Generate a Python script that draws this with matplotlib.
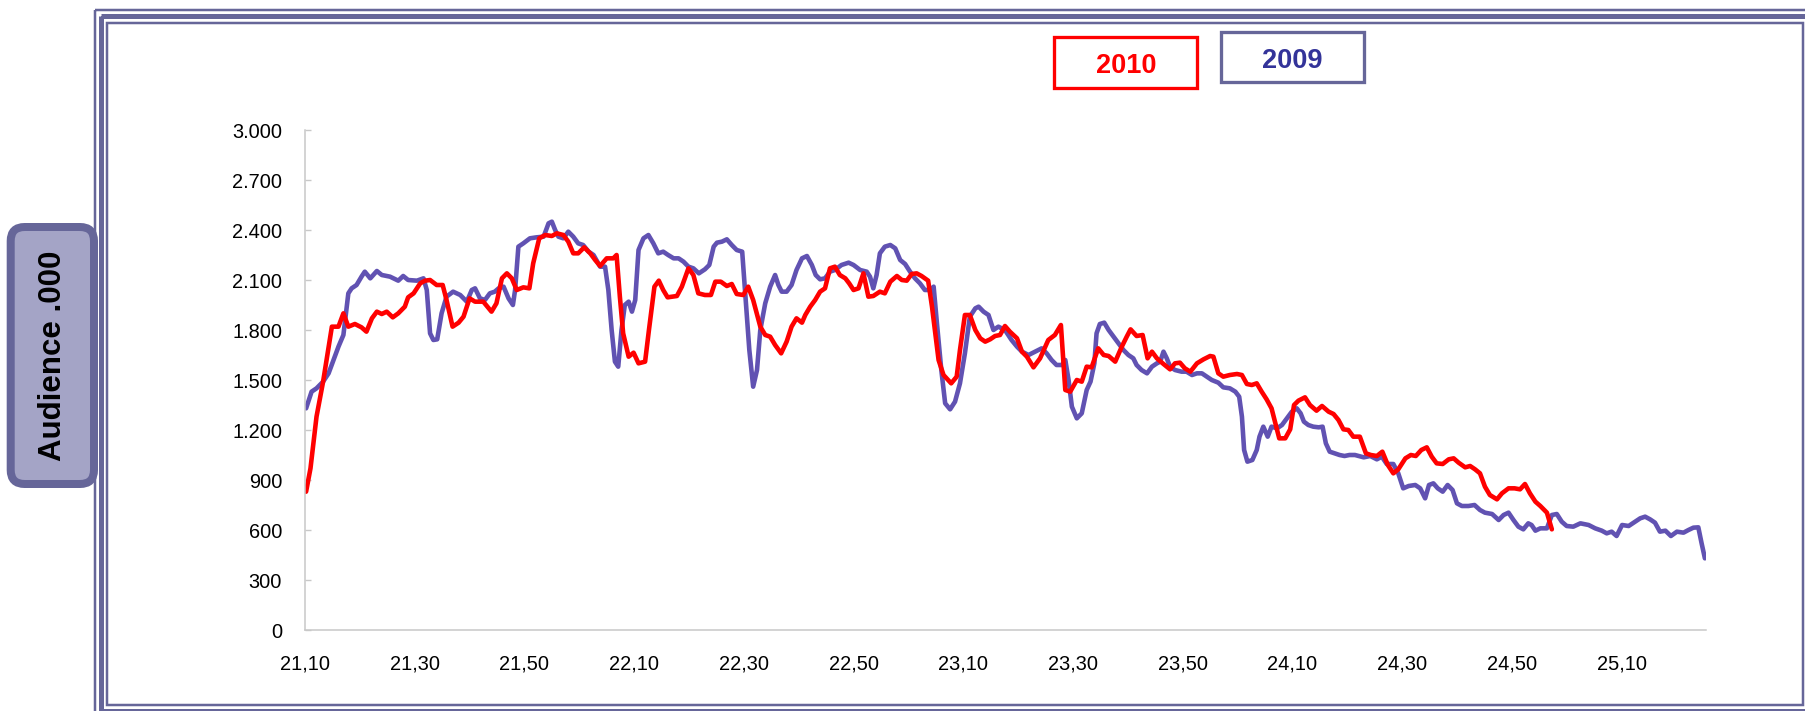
import matplotlib
matplotlib.use("Agg")
import matplotlib.pyplot as plt
from matplotlib.patches import Rectangle, FancyBboxPatch

plt.rcParams['font.family'] = ['Liberation Sans', 'DejaVu Sans']

# ---- data: minutes after 21:10, audience (thousands) ----
minutes_2009 = [0.2,1.2,2.1,3.3,4.3,5.2,6.1,7.0,7.9,8.5,9.4,10.3,10.9,11.9,13.1,14.0,15.5,17.0,17.9,18.8,
                20.4,21.6,22.2,22.8,23.4,24.1,24.9,25.8,27.0,28.3,29.5,30.4,31.0,31.9,32.8,33.7,34.6,35.3,36.2,37.1,
                37.9,38.3,38.9,39.8,41.0,42.2,43.5,44.4,45.0,45.6,46.2,47.1,48.0,48.9,49.8,50.7,51.7,52.6,53.8,54.7,
                55.3,55.9,56.5,57.1,57.7,58.3,59.0,59.6,60.2,60.8,61.7,62.6,
                63.5,64.4,65.3,66.2,67.2,68.1,69.0,69.9,70.8,71.8,72.9,73.7,74.5,75.1,76.0,76.9,77.8,78.7,79.7,80.2,
                81.0,81.7,82.4,83.0,83.9,84.8,85.7,86.3,86.9,87.8,88.7,89.6,90.6,91.5,92.4,93.1,93.9,94.8,95.7,96.6,
                97.8,99.1,100.0,101.2,102.4,103.0,103.6,104.2,104.8,105.7,106.7,107.6,108.5,109.4,110.3,111.2,112.1,113.0,114.0,114.6,
                115.2,116.0,116.7,117.6,118.5,119.4,120.3,121.2,122.2,122.8,123.7,124.6,125.5,126.4,
                127.6,128.8,129.8,130.7,131.9,133.1,134.3,135.2,136.1,137.0,138.0,138.6,139.2,139.8,140.7,141.6,142.5,143.2,143.9,144.3,
                144.9,145.7,146.5,147.4,148.3,149.2,150.1,151.0,151.6,152.5,153.5,154.4,155.3,155.9,156.5,157.1,157.7,158.6,159.8,160.7,
                161.7,162.6,163.5,164.4,165.3,166.5,167.4,168.6,169.6,170.3,170.8,171.2,171.8,172.7,173.5,174.0,174.7,175.5,176.2,177.2,
                178.1,179.0,179.9,180.8,181.5,182.1,182.9,183.8,184.8,185.5,186.1,186.8,187.7,188.6,189.5,190.4,
                191.4,193.0,194.2,195.4,196.3,197.2,198.4,199.3,200.2,201.2,202.4,203.3,204.2,204.9,205.7,206.5,207.4,208.3,209.2,210.0,
                210.9,212.1,213.2,214.2,215.1,216.4,217.6,218.5,219.4,220.3,221.2,222.1,223.0,223.6,224.3,225.2,226.4,227.3,228.2,229.1,
                230.0,231.2,232.5,234.0,235.2,236.4,237.3,238.2,239.1,240.1,241.3,242.5,243.4,244.3,245.2,246.1,247.0,248.0,249.0,250.1,
                251.3,252.2,253.1,254.0,254.6,255.2]
audience_2009 = [1330,1430,1450,1490,1540,1620,1700,1770,2020,2050,2070,2120,2150,2110,2154,2130,2120,2096,2124,2100,
                 2096,2110,2040,1780,1740,1744,1900,2000,2030,2010,1970,2040,2050,1990,1980,2020,2030,2050,2060,1990,
                 1950,2040,2300,2320,2350,2356,2360,2440,2450,2400,2360,2350,2390,2360,2320,2310,2270,2250,2180,2180,
                 2040,1800,1610,1580,1800,1950,1970,1910,1980,2280,2350,2370,
                 2320,2260,2270,2250,2230,2230,2210,2180,2170,2140,2164,2190,2300,2324,2330,2344,2310,2280,2270,2040,
                 1680,1460,1560,1800,1960,2060,2130,2070,2030,2030,2070,2160,2230,2244,2190,2130,2104,2110,2150,2160,
                 2190,2204,2190,2160,2150,2120,2050,2130,2260,2300,2310,2290,2220,2196,2150,2110,2080,2040,2040,2060,
                 1840,1560,1360,1324,1370,1480,1660,1880,1930,1940,1910,1890,1800,1820,
                 1800,1740,1700,1670,1650,1670,1690,1660,1620,1590,1590,1620,1500,1340,1270,1300,1440,1490,1600,1780,
                 1836,1844,1800,1760,1720,1680,1650,1630,1590,1560,1540,1580,1600,1610,1670,1630,1580,1560,1550,1550,
                 1530,1540,1540,1520,1500,1484,1456,1450,1430,1400,1280,1080,1010,1020,1080,1160,1220,1160,1220,1210,
                 1230,1270,1310,1330,1300,1250,1230,1220,1216,1220,1120,1070,1060,1050,1044,1050,
                 1050,1036,1044,1024,1040,996,996,940,850,864,870,850,790,870,880,850,830,870,840,760,
                 744,744,750,720,704,696,660,690,704,660,620,604,640,630,596,610,610,690,696,650,
                 624,620,640,630,610,596,580,590,564,630,624,650,670,680,664,644,590,596,564,590,
                 584,600,614,616,520,430]

minutes_2010 = [0.2,1.0,2.1,3.3,4.9,6.1,7.0,7.9,9.1,10.3,11.2,12.2,13.1,14.0,14.9,16.0,17.0,18.2,18.8,19.8,
                21.0,21.9,22.8,24.0,25.1,25.8,26.9,28.0,28.9,30.0,31.0,32.5,34.0,34.9,35.9,36.8,37.7,38.6,39.8,40.9,
                41.6,42.7,43.8,45.0,45.9,47.1,48.0,48.9,49.8,50.9,52.0,52.9,53.8,55.0,56.2,56.8,57.4,58.0,59.0,59.9,
                60.8,62.0,
                62.7,63.7,64.5,65.3,66.1,67.8,68.7,69.9,70.8,71.7,72.9,74.0,74.8,75.8,76.9,77.8,78.7,79.9,80.8,81.7,
                83.0,83.9,84.8,85.7,86.8,87.8,88.7,89.6,90.6,91.2,92.1,93.0,93.9,94.8,95.7,96.6,97.5,98.5,99.2,100.0,
                100.9,101.8,102.7,103.6,104.8,105.7,106.7,107.9,108.8,109.7,110.6,111.5,112.4,113.6,114.3,114.9,115.5,116.4,117.8,118.8,
                119.4,120.3,121.2,122.2,123.1,124.0,124.9,125.8,
                126.7,127.6,128.5,129.8,130.7,131.6,132.8,134.0,135.5,136.7,137.8,138.6,139.5,140.7,141.6,142.5,143.4,144.6,145.6,146.5,
                147.7,148.9,149.8,150.5,151.6,152.7,153.6,154.4,155.3,156.5,157.7,158.6,159.5,160.4,161.4,162.6,163.8,165.0,165.6,166.5,
                167.4,168.6,169.9,170.8,171.7,172.6,173.5,174.4,175.3,176.2,176.9,177.6,178.7,179.6,180.3,181.1,182.3,183.2,184.4,185.4,
                186.6,187.5,188.4,189.3,190.2,191.1,
                192.3,193.4,194.3,195.4,196.4,197.4,198.4,199.3,200.6,201.6,202.5,203.5,204.5,205.4,206.3,207.4,208.5,209.4,210.3,211.5,
                212.4,213.3,214.2,215.1,216.0,217.3,218.2,219.4,220.5,221.5,222.4,223.3,224.3,225.2,226.4,227.3]
audience_2010 = [830,970,1280,1490,1820,1820,1900,1820,1836,1816,1790,1870,1910,1896,1910,1876,1900,1940,1996,2020,
                 2080,2096,2100,2070,2070,1980,1820,1844,1880,1990,1970,1970,1910,1960,2110,2140,2110,2040,2056,2050,
                 2200,2350,2370,2364,2380,2370,2330,2260,2260,2296,2260,2220,2184,2230,2230,2250,2000,1780,1640,1664,
                 1600,1610,
                 1800,2060,2096,2040,1996,2004,2060,2170,2130,2020,2010,2010,2090,2090,2064,2076,2016,2010,2060,1980,
                 1820,1770,1760,1710,1660,1730,1820,1870,1844,1890,1940,1980,2030,2050,2170,2180,2130,2110,2080,2040,
                 2050,2140,2000,2004,2030,2020,2090,2124,2100,2096,2136,2140,2124,2096,1940,1780,1620,1530,1480,1520,
                 1680,1890,1890,1800,1750,1730,1744,1764,
                 1770,1824,1790,1750,1670,1640,1576,1630,1740,1770,1830,1440,1430,1500,1490,1580,1576,1690,1650,1644,
                 1610,1700,1760,1804,1764,1770,1630,1670,1630,1596,1564,1600,1604,1570,1550,1600,1624,1644,1640,1540,
                 1520,1530,1536,1530,1476,1470,1480,1430,1384,1330,1240,1150,1150,1204,1350,1376,1396,1350,1316,1344,
                 1310,1296,1260,1204,1200,1160,
                 1160,1060,1050,1044,1070,990,940,964,1030,1050,1044,1080,1096,1040,1000,996,1024,1030,1004,976,
                 984,964,940,860,810,784,820,850,850,844,876,820,770,744,704,604]

x_tick_minutes = [0, 20, 40, 60, 80, 100, 120, 140, 160, 180, 200, 220, 240]
x_tick_labels = ["21,10", "21,30", "21,50", "22,10", "22,30", "22,50", "23,10",
                 "23,30", "23,50", "24,10", "24,30", "24,50", "25,10"]
y_ticks = [0, 300, 600, 900, 1200, 1500, 1800, 2100, 2400, 2700, 3000]
y_tick_labels = ["0", "300", "600", "900", "1.200", "1.500", "1.800", "2.100", "2.400", "2.700", "3.000"]
series_names = ["2010", "2009"]
y_title = "Audience .000"

# ---- figure ----
W, H = 1805, 711
fig = plt.figure(figsize=(W / 100, H / 100), dpi=100)
PT = 0.72  # points per pixel at dpi 100

bg = fig.add_axes([0, 0, 1, 1], zorder=0)
bg.set_xlim(0, W)
bg.set_ylim(H, 0)
bg.axis('off')

frame_col = '#666699'
for (l, t, r, b, lw) in [(94.5, 9.5, 1815, 717, 2.5),
                         (100.5, 15.5, 1809, 710.5, 5),
                         (107, 22.5, 1802.5, 704.5, 2.5)]:
    bg.add_patch(Rectangle((l, t), r - l, b - t, fill=False, ec=frame_col, lw=lw * PT))

# y title box
bg.add_patch(FancyBboxPatch((10.7, 227), 83.3, 257, boxstyle='round,pad=0,rounding_size=14',
                            fc='#a4a4c6', ec=frame_col, lw=8 * PT, zorder=3))
bg.text(53, 356, y_title, rotation=90, ha='center', va='center',
        fontsize=22.5, fontweight='bold', color='black', zorder=4)

# legend boxes
bg.add_patch(Rectangle((1054.3, 37.3), 143, 50.4, fill=False, ec='#FF0000', lw=3.3 * PT))
bg.text(1126, 73.3, series_names[0], color='#FF0000', fontsize=19.5, fontweight='bold',
        ha='center', va='baseline')
bg.add_patch(Rectangle((1220.7, 31.7), 143.3, 50.6, fill=False, ec=frame_col, lw=3.3 * PT))
bg.text(1292, 68.3, series_names[1], color='#333399', fontsize=19.5, fontweight='bold',
        ha='center', va='baseline')

# main axes
ax = fig.add_axes([305 / W, 1 - 630 / H, (1706 - 305) / W, 500 / H], zorder=1)
ax.patch.set_alpha(0)
ax.plot(minutes_2009, audience_2009, color='#6152B2', lw=3.3,
        solid_joinstyle='round', solid_capstyle='round')
ax.plot(minutes_2010, audience_2010, color='#FF0000', lw=3.3,
        solid_joinstyle='round', solid_capstyle='round')
ax.set_xlim(0, 255.4)
ax.set_ylim(0, 3000)
for s in ['top', 'right']:
    ax.spines[s].set_visible(False)
for s in ['left', 'bottom']:
    ax.spines[s].set_color('#c8c8c8')
    ax.spines[s].set_linewidth(1.1)
ax.set_yticks(y_ticks)
ax.set_yticklabels(y_tick_labels)
ax.set_xticks(x_tick_minutes)
ax.set_xticklabels(x_tick_labels)
ax.tick_params(axis='y', direction='in', length=4.3, width=1.0, color='#c8c8c8',
               labelsize=14.4, pad=16.5)
ax.tick_params(axis='x', length=0, labelsize=14.4, pad=18)

fig.savefig('out.png', dpi=100)
